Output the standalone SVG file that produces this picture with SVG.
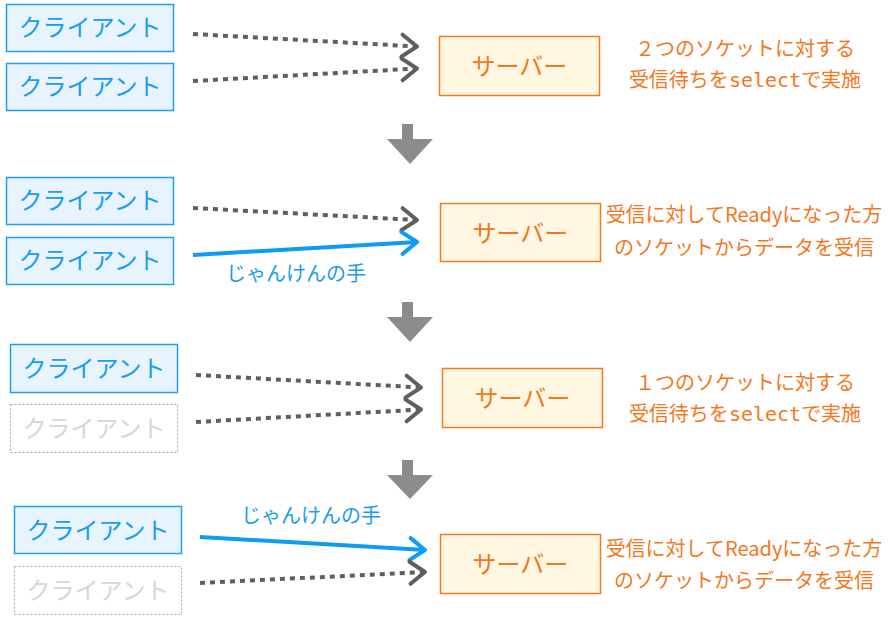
<svg xmlns="http://www.w3.org/2000/svg" width="889" height="620" viewBox="0 0 889 620">
<defs>
<style>
.cl rect{fill:#e7f4fd;stroke:#1ea0ef;stroke-width:1.5}
.cl text{fill:#1a9bee}
.off rect{fill:#fff;stroke:#a8a8a8;stroke-width:1;stroke-dasharray:2 2}
.off text{fill:#d6d6d6}
.sv rect{fill:#fff7e2;stroke:#f5791f;stroke-width:1.5}
.sv text{fill:#f5771d}
text{font-family:"Noto Sans CJK JP","Noto Sans",sans-serif}
.big{font-size:24px;text-anchor:middle}
.note{font-size:20px;text-anchor:middle;fill:#f5771d}
.mono{font-family:"DejaVu Sans Mono","Liberation Mono",monospace}
.lbl{font-size:20px;text-anchor:middle;fill:#1a9bee}
.dot{fill:none;stroke:#5f5f5f;stroke-width:4;stroke-dasharray:5 5;marker-end:url(#mg)}
.sol{fill:none;stroke:#0d9bf4;stroke-width:4;marker-end:url(#mb)}
.down{fill:#8c8c8c}
</style>
<marker id="mg" markerUnits="userSpaceOnUse" viewBox="-20 -15 24 30" refX="0" refY="0" markerWidth="24" markerHeight="30" orient="auto">
<path d="M-15,-11 L0,0 L-15,11" fill="none" stroke="#5f5f5f" stroke-width="4" stroke-linecap="round" stroke-linejoin="round"/>
</marker>
<marker id="mb" markerUnits="userSpaceOnUse" viewBox="-20 -15 24 30" refX="0" refY="0" markerWidth="24" markerHeight="30" orient="auto">
<path d="M-15,-11 L0,0 L-15,11" fill="none" stroke="#0d9bf4" stroke-width="4" stroke-linecap="round" stroke-linejoin="round"/>
</marker>
</defs>

<g id="connectors">
<path class="dot" d="M193,34 L417,46.5"/>
<path class="dot" d="M193,81 L417,68.5"/>
<path class="dot" d="M193,208 L417,220"/>
<path class="sol" d="M193,255 L417,242"/>
<path class="dot" d="M196,375 L421,387.5"/>
<path class="dot" d="M196,422 L421,409.5"/>
<path class="sol" d="M200,537 L425,550"/>
<path class="dot" d="M200,583 L425,572"/>
<text class="lbl" x="296" y="281">じゃんけんの手</text>
<text class="lbl" x="311" y="523">じゃんけんの手</text>
</g>

<g id="step-arrows">
<path class="down" d="M402,124 H413 V139 H433 L410,164 L387,139 H402 Z"/>
<path class="down" d="M402,302 H413 V317 H433 L410,342 L387,317 H402 Z"/>
<path class="down" d="M402,460 H413 V475 H433 L410,499 L387,475 H402 Z"/>
</g>

<!-- Panel 1 -->
<g id="client1a" class="cl"><rect x="6.5" y="4.5" width="167" height="47"/><text class="big" x="90" y="36">クライアント</text></g>
<g id="client1b" class="cl"><rect x="6.5" y="63.5" width="167" height="47"/><text class="big" x="90" y="95">クライアント</text></g>
<g id="server1" class="sv"><rect x="439.5" y="36.5" width="160" height="59"/><text class="big" x="519.5" y="75">サーバー</text></g>
<g id="note1"><text class="note" x="745" y="55.5">２つのソケットに対する</text><text class="note" x="745" y="87">受信待ちを<tspan class="mono">select</tspan>で実施</text></g>

<!-- Panel 2 -->
<g id="client2a" class="cl"><rect x="6.5" y="177.5" width="167" height="47"/><text class="big" x="90" y="209">クライアント</text></g>
<g id="client2b" class="cl"><rect x="6.5" y="237.5" width="167" height="47"/><text class="big" x="90" y="269">クライアント</text></g>
<g id="server2" class="sv"><rect x="440.5" y="203.5" width="160" height="58"/><text class="big" x="520.5" y="241.5">サーバー</text></g>
<g id="note2"><text class="note" x="744" y="222">受信に対してReadyになった方</text><text class="note" x="744" y="255">のソケットからデータを受信</text></g>

<!-- Panel 3 -->
<g id="client3a" class="cl"><rect x="10.5" y="344.5" width="167" height="48"/><text class="big" x="94" y="377">クライアント</text></g>
<g id="client3b" class="off"><rect x="10.5" y="404.5" width="167" height="48"/><text class="big" x="94" y="437">クライアント</text></g>
<g id="server3" class="sv"><rect x="442.5" y="368.5" width="160" height="59"/><text class="big" x="522.5" y="407">サーバー</text></g>
<g id="note3"><text class="note" x="745" y="390">１つのソケットに対する</text><text class="note" x="745" y="421">受信待ちを<tspan class="mono">select</tspan>で実施</text></g>

<!-- Panel 4 -->
<g id="client4a" class="cl"><rect x="14.5" y="506.5" width="167" height="47"/><text class="big" x="98" y="539">クライアント</text></g>
<g id="client4b" class="off"><rect x="14.5" y="566.5" width="167" height="48"/><text class="big" x="98" y="599">クライアント</text></g>
<g id="server4" class="sv"><rect x="440.5" y="534.5" width="160" height="59"/><text class="big" x="520.5" y="573">サーバー</text></g>
<g id="note4"><text class="note" x="744" y="556">受信に対してReadyになった方</text><text class="note" x="744" y="588">のソケットからデータを受信</text></g>
</svg>
